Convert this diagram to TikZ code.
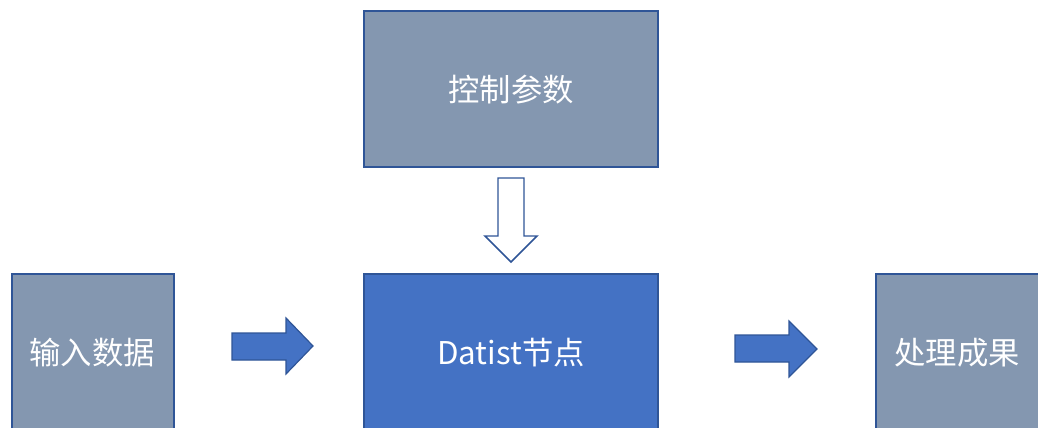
\documentclass[tikz,border=0pt]{standalone}
\usepackage{fontspec}
\newfontfamily\cjk{Noto Sans CJK SC}
\definecolor{boxgray}{HTML}{8497B0}
\definecolor{boxblue}{HTML}{4472C4}
\definecolor{edgeblue}{HTML}{2F5597}
\begin{document}
\begin{tikzpicture}[x=0.75pt,y=-0.75pt,
  blockbox/.style={draw=edgeblue,line width=1.1pt,fill=boxgray},
  mainbox/.style={draw=edgeblue,line width=1.1pt,fill=boxblue},
  lbl/.style={text=white,font=\cjk\fontsize{23.5}{28}\selectfont},
  fatarrow/.style={draw=edgeblue,line width=0.9pt,fill=boxblue,line join=miter},
  hollowarrow/.style={draw=edgeblue,line width=1.1pt,fill=white,line join=miter}]
\useasboundingbox (0,0) rectangle (1038,428);
\clip (0,0) rectangle (1038,428);
% boxes
\draw[blockbox] (364,11) rectangle (658,167);
\node[lbl] (ctrl) at (511,90) {控制参数};
\draw[blockbox] (12,274) rectangle (174,440);
\node[lbl] (in) at (92,353) {输入数据};
\draw[mainbox] (364,274) rectangle (658,440);
\node[lbl] (dat) at (511,353) {Datist节点};
\draw[blockbox] (876,274) rectangle (1045,440);
\node[lbl] (out) at (957,353) {处理成果};
% arrows
\draw[fatarrow] (232,333) -- (286,333) -- (286,318) -- (313,346) -- (286,374) -- (286,360) -- (232,360) -- cycle;
\draw[fatarrow] (735,335) -- (789,335) -- (789,321) -- (817,349) -- (789,377) -- (789,362) -- (735,362) -- cycle;
\draw[hollowarrow] (498,178) -- (524,178) -- (524,236) -- (537,236) -- (511,262) -- (485,236) -- (498,236) -- cycle;
\end{tikzpicture}
\end{document}
